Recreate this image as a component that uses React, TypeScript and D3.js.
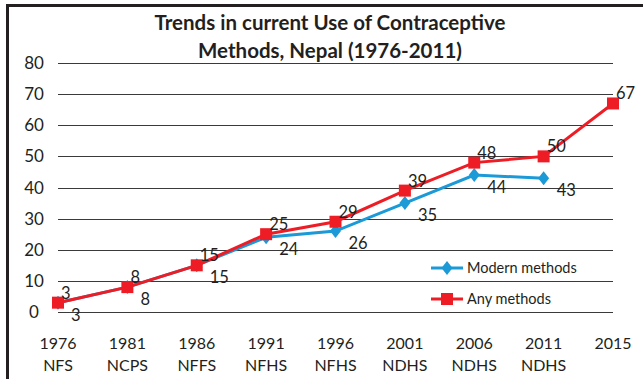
import * as d3 from "d3"
import { useRef, useEffect } from "react"

const years = ["1976", "1981", "1986", "1991", "1996", "2001", "2006", "2011", "2015"]
const surveys = ["NFS", "NCPS", "NFFS", "NFHS", "NFHS", "NDHS", "NDHS", "NDHS", ""]
const modernMethods = [3, 8, 15, 24, 26, 35, 44, 43]
const anyMethods = [3, 8, 15, 25, 29, 39, 48, 50, 67]
const yTicks = [0, 10, 20, 30, 40, 50, 60, 70, 80]

const BLUE = "#1b9ad7"
const RED = "#ee1c25"
const FONT = "Lato, 'Open Sans', sans-serif"

export default function App() {
  const ref = useRef<SVGSVGElement>(null)

  useEffect(() => {
    const width = 643
    const height = 379
    const svg = d3.select(ref.current)
    svg.selectAll("*").remove()
    svg.attr("width", width).attr("height", height)

    const x = d3.scalePoint<string>().domain(years).range([58, 613])
    const y = d3.scaleLinear().domain([0, 80]).range([312, 63])

    svg.append("rect").attr("width", width).attr("height", height).attr("fill", "white")

    // frame
    svg.append("path")
      .attr("d", "M7.5,380 L7.5,5.5 L645,5.5")
      .attr("fill", "none").attr("stroke", "#231f20").attr("stroke-width", 3)

    // title
    const title = svg.append("text").attr("text-anchor", "middle")
      .attr("font-family", FONT).attr("font-weight", "bold").attr("font-size", 20.5).attr("fill", "#231f20")
    title.append("tspan").attr("x", 330).attr("y", 30).text("Trends in current Use of Contraceptive")
    title.append("tspan").attr("x", 330).attr("y", 58).text("Methods, Nepal (1976-2011)")

    // grid + y labels
    svg.append("g").selectAll("line").data(yTicks).join("line")
      .attr("x1", 58).attr("x2", 613)
      .attr("y1", d => Math.round(y(d)) + 0.5).attr("y2", d => Math.round(y(d)) + 0.5)
      .attr("stroke", "#3a3a3a").attr("stroke-width", 1.2)

    svg.append("g").selectAll("text").data(yTicks).join("text")
      .attr("x", 34).attr("y", d => y(d) + 6)
      .attr("text-anchor", "middle").attr("font-family", FONT).attr("font-size", 17).attr("fill", "#231f20")
      .text(d => d)

    // x labels
    const xl = svg.append("g").attr("font-family", FONT).attr("font-size", 16)
      .attr("fill", "#231f20").attr("text-anchor", "middle")
    xl.selectAll(".yr").data(years).join("text").attr("class", "yr")
      .attr("x", d => x(d)!).attr("y", 349).text(d => d)
    xl.selectAll(".sv").data(years).join("text").attr("class", "sv")
      .attr("x", d => x(d)!).attr("y", 371).text((d, i) => surveys[i])

    const line = d3.line<number>().x((d, i) => x(years[i])!).y(d => y(d))

    // modern
    svg.append("path").datum(modernMethods).attr("d", line)
      .attr("fill", "none").attr("stroke", BLUE).attr("stroke-width", 3)
    const diamond = "M0,-7 L5.5,0 L0,7 L-5.5,0 Z"
    svg.append("g").selectAll("path").data(modernMethods).join("path")
      .attr("d", diamond).attr("fill", BLUE)
      .attr("transform", (d, i) => `translate(${x(years[i])},${y(d)})`)

    // any
    svg.append("path").datum(anyMethods).attr("d", line)
      .attr("fill", "none").attr("stroke", RED).attr("stroke-width", 3)
    svg.append("g").selectAll("rect").data(anyMethods).join("rect")
      .attr("x", (d, i) => x(years[i])! - 6).attr("y", d => y(d) - 6)
      .attr("width", 12).attr("height", 12).attr("fill", RED)

    // data labels
    const lbl = svg.append("g").attr("font-family", FONT).attr("font-size", 16.5).attr("fill", "#231f20")
    lbl.selectAll(".m").data(modernMethods).join("text").attr("class", "m")
      .attr("x", (d, i) => x(years[i])! + 13).attr("y", d => y(d) + 18)
      .text(d => d)
    lbl.selectAll(".a").data(anyMethods).join("text").attr("class", "a")
      .attr("x", (d, i) => x(years[i])! + 3).attr("y", d => y(d) - 4)
      .text(d => d)

    // legend
    const lg = svg.append("g").attr("font-family", FONT).attr("font-size", 14.5).attr("fill", "#231f20")
    const items = [
      { name: "Modern methods", color: BLUE, shape: "diamond" },
      { name: "Any methods", color: RED, shape: "square" },
    ]
    items.forEach((it, i) => {
      const cy = 268 + i * 31
      lg.append("line").attr("x1", 431).attr("x2", 463).attr("y1", cy).attr("y2", cy)
        .attr("stroke", it.color).attr("stroke-width", 3)
      if (it.shape === "diamond") {
        lg.append("path").attr("d", diamond).attr("fill", it.color).attr("transform", `translate(447,${cy})`)
      } else {
        lg.append("rect").attr("x", 441).attr("y", cy - 6).attr("width", 12).attr("height", 12).attr("fill", it.color)
      }
      lg.append("text").attr("x", 467).attr("y", cy + 5).text(it.name)
    })
  }, [])

  return (
    <div style={{ position: "absolute", left: 0, top: 0 }}>
      <svg ref={ref} style={{ display: "block" }}></svg>
    </div>
  )
}
